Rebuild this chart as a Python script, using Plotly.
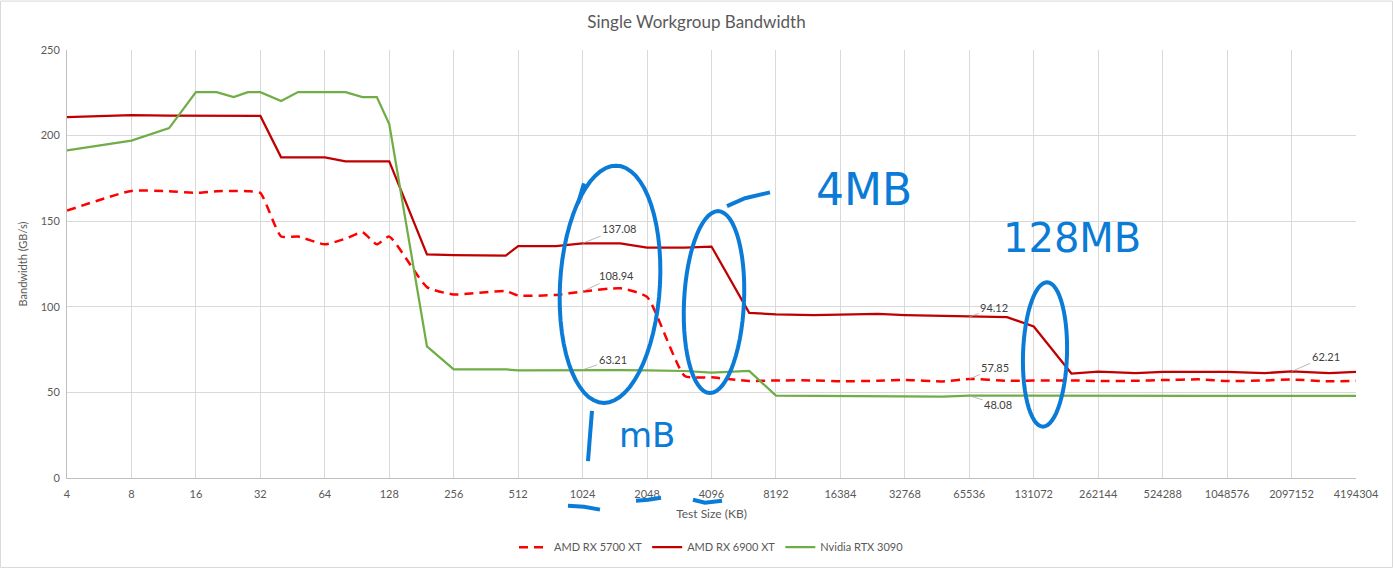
import math
import plotly.graph_objects as go

# ---------------- data ----------------
sizes_kb = [4, 8, 12, 16, 20, 24, 28, 32, 40, 48, 64, 80, 96, 112, 128, 192, 256, 448, 512,
            768, 1024, 1536, 2048, 3072, 4096, 6144, 8192, 12288, 16384, 24576, 32768, 49152,
            65536, 98304, 131072, 196608, 262144, 393216, 524288, 786432, 1048576, 1572864,
            2097152, 3145728, 4194304]

rx5700 = [156.2, 167.7, 167.5, 166.5, 167.5, 167.7, 167.5, 166.5, 141.1, 141.0, 136.5, 139.8,
          143.5, 136.5, 141.0, 111.5, 107.2, 109.2, 106.6, 106.9, 108.94, 110.8, 105.8, 59.6,
          58.8, 56.7, 57.0, 57.0, 56.5, 56.8, 57.3, 56.4, 57.85, 56.8, 56.9, 57.0, 56.6, 56.8,
          57.2, 57.6, 56.6, 57.0, 57.5, 56.5, 56.8]

rx6900 = [210.8, 212.0, 211.6, 211.5, 211.5, 211.5, 211.5, 211.5, 187.3, 187.3, 187.3, 185.0,
          185.0, 185.0, 185.0, 130.6, 130.2, 129.9, 135.4, 135.4, 137.08, 137.1, 134.6, 134.6,
          135.2, 96.5, 95.6, 95.2, 95.5, 95.8, 95.2, 94.8, 94.12, 94.0, 88.5, 61.0, 62.1, 61.3,
          62.0, 62.0, 62.0, 61.3, 62.21, 61.3, 62.0]

rtx3090 = [191.3, 197.1, 204.4, 225.4, 225.4, 222.5, 225.4, 225.4, 220.2, 225.4, 225.4, 225.4,
           222.5, 222.5, 206.7, 76.9, 63.5, 63.5, 62.8, 63.0, 63.21, 63.0, 62.8, 62.5, 61.5,
           62.5, 48.1, 48.0, 48.0, 47.6, 47.6, 47.5, 48.08, 48.0, 48.0, 48.0, 48.0, 48.0, 48.0,
           48.0, 48.0, 48.0, 48.0, 48.0, 48.0]

tick_sizes = [4, 8, 16, 32, 64, 128, 256, 512, 1024, 2048, 4096, 8192, 16384, 32768, 65536,
              131072, 262144, 524288, 1048576, 2097152, 4194304]
tick_labels = [str(v) for v in tick_sizes]

# data labels: (series values, size, dx, dy)
labels = [
    (rx6900, 1024, 37, -15),
    (rx5700, 1024, 34, -16),
    (rtx3090, 1024, 30, -10),
    (rx6900, 65536, 25, -9),
    (rx5700, 65536, 26, -11),
    (rtx3090, 65536, 29, 9),
    (rx6900, 2097152, 34, -15),
]

FONT = "Lato"
GREY = "#595959"

fig = go.Figure()
fig.add_trace(go.Scatter(x=sizes_kb, y=rx5700, name="AMD RX 5700 XT", mode="lines",
                         line=dict(color="#FF0000", width=2.5, dash="9px,6px",
                                   shape="spline", smoothing=0.5)))
fig.add_trace(go.Scatter(x=sizes_kb, y=rx6900, name="AMD RX 6900 XT", mode="lines",
                         line=dict(color="#C00000", width=2.25)))
fig.add_trace(go.Scatter(x=sizes_kb, y=rtx3090, name="Nvidia RTX 3090", mode="lines",
                         line=dict(color="#70AD47", width=2.25)))

for series, size, dx, dy in labels:
    val = series[sizes_kb.index(size)]
    fig.add_annotation(x=math.log10(size), y=val, xref="x", yref="y",
                       text=f"{val:.2f}", showarrow=True, arrowhead=0, arrowwidth=0.8,
                       arrowcolor="#a6a6a6", ax=dx, ay=dy,
                       font=dict(family=FONT, size=11, color="#404040"))

# ---- hand-drawn blue markup (decoration) ----
W, H, L, B = 1289.0, 433.0, 67.0, 483.0
def px(x, y):
    return ((x - L) / W, (B - y) / H)

BLUE = "#0A7BD6"
def oval(cx, cy, rx, ry, tilt=0.0, n=60):
    pts = []
    for i in range(n + 1):
        t = 2 * math.pi * i / n
        x = cx + rx * math.cos(t) + tilt * math.sin(t)
        y = cy + ry * math.sin(t)
        pts.append(px(x, y))
    return "M " + " L ".join(f"{a:.5f},{b:.5f}" for a, b in pts)

def stroke(points):
    pts = [px(x, y) for x, y in points]
    return "M " + " L ".join(f"{a:.5f},{b:.5f}" for a, b in pts)

shapes = []
for d in [oval(610, 287, 50, 120, tilt=-6),
          oval(714, 305, 30, 92, tilt=-4),
          oval(1045, 358, 22, 73, tilt=-2),
          stroke([(578, 205), (584, 185), (580, 200)]),
          stroke([(727, 208), (745, 200), (770, 194)]),
          stroke([(568, 511), (584, 512), (600, 515)]),
          stroke([(636, 506), (648, 505), (661, 503)]),
          stroke([(693, 505), (705, 508), (722, 506)]),
          stroke([(592, 415), (590, 440), (588, 466)])]:
    shapes.append(dict(type="path", path=d, xref="paper", yref="paper",
                       line=dict(color=BLUE, width=4)))

# outer chart border
x0, y0 = px(0.5, 573.5)
x1, y1 = px(1392.5, 0.5)
shapes.append(dict(type="rect", xref="paper", yref="paper", x0=x0, y0=y0, x1=x1, y1=y1,
                   line=dict(color="#d9d9d9", width=1)))

for txt, (cx, cy), sz in [("4MB", (864, 191), 44), ("128MB", (1072, 240), 40),
                          ("mB", (647, 440), 34)]:
    xp, yp = px(cx, cy)
    fig.add_annotation(x=xp, y=yp, xref="paper", yref="paper", text=txt, showarrow=False,
                       xanchor="center", yanchor="middle",
                       font=dict(family="DejaVu Sans", size=sz, color=BLUE))

fig.update_layout(
    width=1393, height=574,
    margin=dict(l=67, r=37, t=50, b=91),
    paper_bgcolor="white", plot_bgcolor="white",
    font=dict(family=FONT, size=11, color=GREY),
    title=dict(text="Single Workgroup Bandwidth", x=0.5, xref="container", xanchor="center",
               y=(574 - 22) / 574, yanchor="middle", yref="container",
               font=dict(family=FONT, size=17, color=GREY)),
    xaxis=dict(type="log", range=[math.log10(4), math.log10(4194304)],
               tickvals=tick_sizes, ticktext=tick_labels, showgrid=True,
               gridcolor="#d9d9d9", gridwidth=1, showline=True, linecolor="#bfbfbf",
               ticks="outside", ticklen=6, tickcolor="rgba(0,0,0,0)",
               tickfont=dict(family=FONT, size=11, color=GREY), zeroline=False,
               title=dict(text="Test Size (KB)", standoff=10,
                          font=dict(family=FONT, size=12, color=GREY))),
    yaxis=dict(range=[0, 250], tickvals=[0, 50, 100, 150, 200, 250], showgrid=True,
               gridcolor="#d9d9d9", gridwidth=1, showline=True, linecolor="#bfbfbf",
               zeroline=False, ticks="outside", ticklen=4, tickcolor="rgba(0,0,0,0)",
               tickfont=dict(family=FONT, size=11, color=GREY),
               title=dict(text="Bandwidth (GB/s)", standoff=10,
                          font=dict(family=FONT, size=11, color=GREY))),
    legend=dict(orientation="h", x=0.5, xanchor="center", y=(483 - 553) / 433,
                yanchor="middle", font=dict(family=FONT, size=11, color=GREY),
                itemwidth=30),
    shapes=shapes,
    showlegend=True,
)

fig.write_html("out.html")
